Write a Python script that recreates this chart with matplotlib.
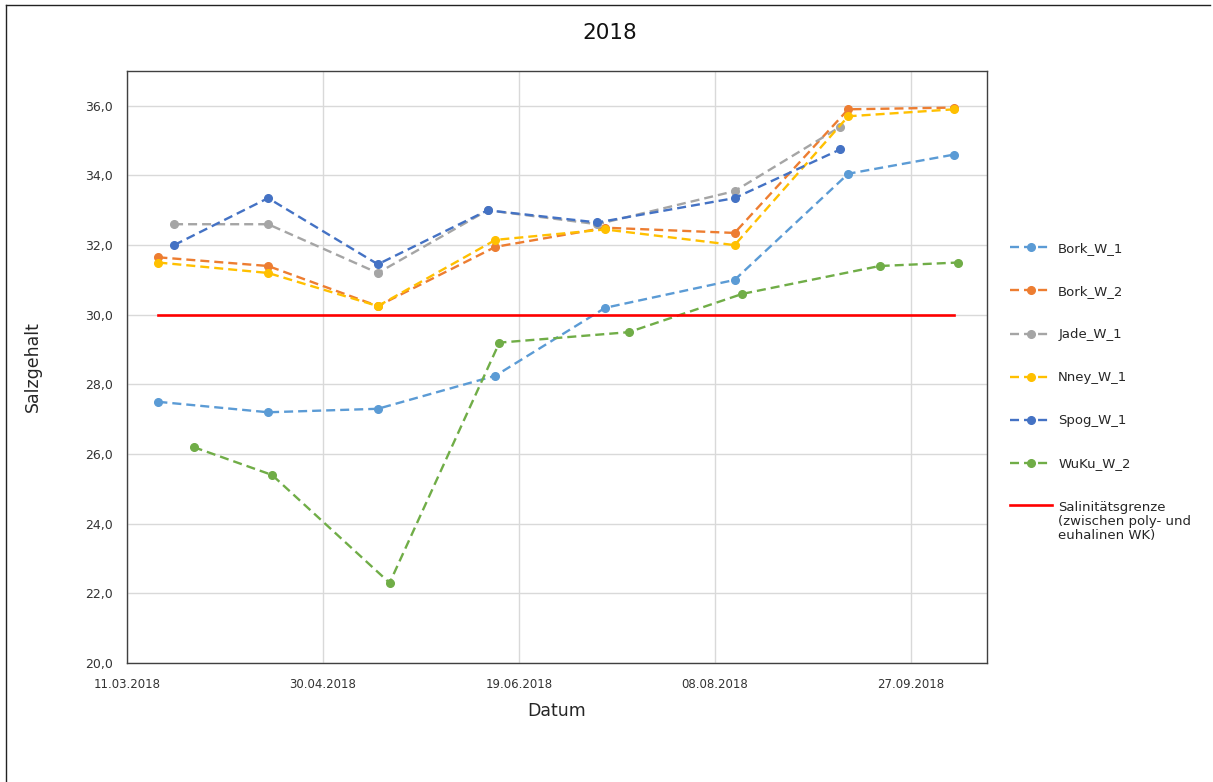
import numpy as np
import pandas as pd
import matplotlib
matplotlib.use("Agg")
import matplotlib.pyplot as plt
import matplotlib.dates as mdates
from matplotlib.ticker import FuncFormatter, FixedLocator
from matplotlib.legend_handler import HandlerLine2D
from matplotlib.lines import Line2D

# sampling dates per group of stations
dates_bork = ["2018-03-19", "2018-04-16", "2018-05-14", "2018-06-13",
              "2018-07-11", "2018-08-13", "2018-09-11", "2018-10-08"]
dates_jade = ["2018-03-23", "2018-04-16", "2018-05-14", "2018-06-11",
              "2018-07-09", "2018-08-13", "2018-09-09"]
dates_wuku = ["2018-03-28", "2018-04-17", "2018-05-17", "2018-06-14",
              "2018-07-17", "2018-08-15", "2018-09-19", "2018-10-09"]

bork_w_1 = [27.5, 27.2, 27.3, 28.25, 30.2, 31.0, 34.05, 34.6]
bork_w_2 = [31.65, 31.4, 30.25, 31.95, 32.5, 32.35, 35.9, 35.95]
jade_w_1 = [32.6, 32.6, 31.2, 33.0, 32.6, 33.55, 35.4]
nney_w_1 = [31.5, 31.2, 30.25, 32.15, 32.45, 32.0, 35.7, 35.9]
spog_w_1 = [32.0, 33.35, 31.45, 33.0, 32.65, 33.35, 34.75]
wuku_w_2 = [26.2, 25.4, 22.3, 29.2, 29.5, 30.6, 31.4, 31.5]

grenze_dates = ["2018-03-19", "2018-10-08"]
grenze = [30.0, 30.0]

tick_dates = ["2018-03-11", "2018-04-30", "2018-06-19", "2018-08-08", "2018-09-27"]

series = [
    ("Bork_W_1", dates_bork, bork_w_1, "#5B9BD5"),
    ("Bork_W_2", dates_bork, bork_w_2, "#ED7D31"),
    ("Jade_W_1", dates_jade, jade_w_1, "#A5A5A5"),
    ("Nney_W_1", dates_bork, nney_w_1, "#FFC000"),
    ("Spog_W_1", dates_jade, spog_w_1, "#4472C4"),
    ("WuKu_W_2", dates_wuku, wuku_w_2, "#70AD47"),
]

plt.rcParams['font.family'] = ['DejaVu Sans']
plt.rcParams['lines.scale_dashes'] = False


class TopLineHandler(HandlerLine2D):
    # put the handle next to the first line of a multi-line label
    def create_artists(self, legend, orig_handle, xdescent, ydescent,
                       width, height, fontsize, trans):
        arts = super().create_artists(legend, orig_handle, xdescent, ydescent,
                                      width, height, fontsize, trans)
        for a in arts:
            a.set_ydata(np.asarray(a.get_ydata()) + 1.25 * fontsize)
        return arts


fig = plt.figure(figsize=(12.13, 7.82), dpi=100)
ax = fig.add_axes([127 / 1213, 1 - 663 / 782, 860 / 1213, 592 / 782])

for name, d, v, c in series:
    ax.plot(pd.to_datetime(d), v, color=c, lw=1.7, linestyle=(0, (6.5, 3.6)),
            marker="o", ms=5.5, label=name, zorder=3)

red, = ax.plot(pd.to_datetime(grenze_dates), grenze, color="#FF0000", lw=1.9,
               label="Salinitätsgrenze\n(zwischen poly- und\neuhalinen WK)", zorder=4)

x0 = mdates.date2num(pd.Timestamp("2018-03-11"))
ax.set_xlim(x0, x0 + 219.4)
ax.set_ylim(20, 37)
ax.yaxis.set_major_locator(FixedLocator(np.arange(20, 37, 2)))
ax.yaxis.set_major_formatter(FuncFormatter(lambda v, _: f"{v:.1f}".replace(".", ",")))
ax.xaxis.set_major_locator(FixedLocator(mdates.date2num(pd.to_datetime(tick_dates))))
ax.xaxis.set_major_formatter(mdates.DateFormatter("%d.%m.%Y"))

ax.grid(True, color="#D9D9D9", lw=1)
ax.set_axisbelow(True)
ax.tick_params(length=0, labelsize=8.5, colors="#333333")
ax.tick_params(axis="x", pad=11)
ax.tick_params(axis="y", pad=10, labelsize=9)
for sp in ax.spines.values():
    sp.set_color("#404040")
    sp.set_linewidth(1)

ax.set_xlabel("Datum", fontsize=12.5, color="#262626", labelpad=8)
ax.set_ylabel("Salzgehalt", fontsize=12.5, color="#262626", labelpad=31)
fig.text(0.503, 1 - 33 / 782, "2018", fontsize=15.5, ha="center", va="center",
         color="#111111")

leg = fig.legend(loc="upper left", bbox_to_anchor=(1010 / 1213, 1 - 242 / 782),
                 frameon=False, fontsize=9.5, borderpad=0, borderaxespad=0,
                 handlelength=3.2, handletextpad=0.45, labelspacing=2.28,
                 handler_map={red: TopLineHandler()})
for t in leg.get_texts():
    t.set_color("#262626")
leg.get_texts()[-1].set_linespacing(1.1)

# chart area border (left and top visible)
fig.add_artist(Line2D([6 / 1213, 6 / 1213], [0, 1 - 5 / 782], color="#222222", lw=1))
fig.add_artist(Line2D([6 / 1213, 1210 / 1213], [1 - 5 / 782, 1 - 5 / 782], color="#222222", lw=1))

fig.savefig("out.png", dpi=100)
